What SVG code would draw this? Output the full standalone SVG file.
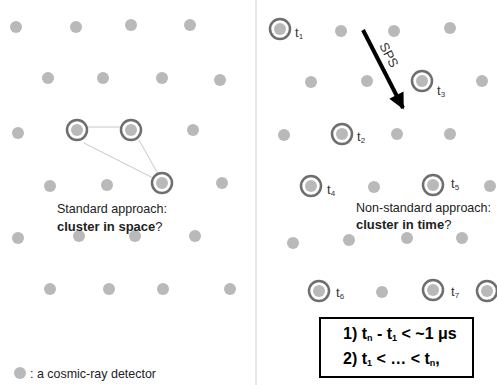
<svg xmlns="http://www.w3.org/2000/svg" width="497" height="385" viewBox="0 0 497 385">
<style>
.d{fill:#b9b9b9}
.r{fill:none;stroke:#6e6e6e;stroke-width:2.5}
.t{font-family:"Liberation Sans",Arial,sans-serif;font-size:13px;fill:#222}
.lbl{font-family:"Liberation Sans",Arial,sans-serif;font-size:13px;fill:#333}
.sub{font-size:8px}
.b{font-weight:bold}
.big{font-family:"Liberation Sans",Arial,sans-serif;font-size:16px;font-weight:bold;fill:#000}
.bsub{font-size:9px}
</style>
<defs>
<circle id="dot" r="6" class="d"/>
<g id="ring"><circle r="6" class="d"/><circle r="10" class="r"/></g>
<marker id="ah" viewBox="0 0 10 10" refX="9" refY="5" markerWidth="5.5" markerHeight="4" orient="auto" markerUnits="strokeWidth"><path d="M0,0 L10,5 L0,10 z" fill="#000"/></marker>
</defs>
<rect width="497" height="385" fill="#fff"/>
<line x1="256" y1="0" x2="256" y2="385" stroke="#d0d0d0" stroke-width="1"/>

<g id="left-panel">
<use href="#dot" x="16" y="27"/><use href="#dot" x="76" y="27"/><use href="#dot" x="131" y="25"/><use href="#dot" x="190" y="25"/>
<use href="#dot" x="48" y="78"/><use href="#dot" x="103" y="78"/><use href="#dot" x="162" y="78"/><use href="#dot" x="220" y="80"/>
<use href="#dot" x="18" y="133"/><use href="#dot" x="193" y="130"/>
<use href="#dot" x="50" y="186"/><use href="#dot" x="107" y="185"/><use href="#dot" x="222" y="183"/>
<use href="#dot" x="18" y="238"/><use href="#dot" x="79" y="236"/><use href="#dot" x="135" y="236"/><use href="#dot" x="195" y="236"/>
<use href="#dot" x="50" y="289"/><use href="#dot" x="109" y="289"/><use href="#dot" x="163" y="289"/><use href="#dot" x="230" y="289"/>
</g>

<g id="connectors">
<line x1="87" y1="127" x2="121" y2="127" stroke="#c8c8c8" stroke-width="1"/>
<line x1="84" y1="143" x2="153" y2="178" stroke="#c8c8c8" stroke-width="1"/>
<line x1="139" y1="140" x2="158" y2="174" stroke="#c8c8c8" stroke-width="1"/>
<line x1="363" y1="30" x2="403" y2="108" stroke="#000" stroke-width="4" marker-end="url(#ah)"/>
</g>

<g id="cluster-space">
<use href="#ring" x="77" y="130"/>
<use href="#ring" x="131" y="130"/>
<use href="#ring" x="162" y="183"/>
</g>

<g id="standard-text">
<text class="t" x="57" y="213" textLength="110" lengthAdjust="spacingAndGlyphs">Standard approach:</text>
<text class="t" x="57" y="231"><tspan class="b">cluster in space</tspan>?</text>
</g>

<g id="legend">
<use href="#dot" x="20" y="373"/>
<text class="t" x="30" y="378" textLength="126" lengthAdjust="spacingAndGlyphs">: a cosmic-ray detector</text>
</g>

<g id="right-panel">
<use href="#dot" x="341" y="31"/><use href="#dot" x="394" y="31"/><use href="#dot" x="450" y="28"/>
<use href="#dot" x="311" y="82"/><use href="#dot" x="367" y="81"/><use href="#dot" x="482" y="81"/>
<use href="#dot" x="284" y="135"/><use href="#dot" x="397" y="134"/><use href="#dot" x="450" y="134"/>
<use href="#dot" x="374" y="187"/><use href="#dot" x="490" y="186"/>
<use href="#dot" x="293" y="243"/><use href="#dot" x="349" y="240"/><use href="#dot" x="407" y="238"/><use href="#dot" x="462" y="238"/>
<use href="#dot" x="382" y="292"/>
</g>

<g id="t1"><use href="#ring" x="280" y="29"/><text class="lbl" x="295" y="37">t<tspan class="sub" dy="2">1</tspan></text></g>
<g id="t2"><use href="#ring" x="342" y="134"/><text class="lbl" x="357" y="141">t<tspan class="sub" dy="2">2</tspan></text></g>
<g id="t3"><use href="#ring" x="422" y="81"/><text class="lbl" x="437" y="95">t<tspan class="sub" dy="2">3</tspan></text></g>
<g id="t4"><use href="#ring" x="311" y="186"/><text class="lbl" x="327" y="194">t<tspan class="sub" dy="2">4</tspan></text></g>
<g id="t5"><use href="#ring" x="433" y="185"/><text class="lbl" x="451" y="188">t<tspan class="sub" dy="2">5</tspan></text></g>
<g id="t6"><use href="#ring" x="319" y="291"/><text class="lbl" x="336" y="297">t<tspan class="sub" dy="2">6</tspan></text></g>
<g id="t7"><use href="#ring" x="433" y="290"/><text class="lbl" x="451" y="296">t<tspan class="sub" dy="2">7</tspan></text></g>
<g id="t8"><use href="#ring" x="487" y="291"/></g>

<g id="sps-label">
<text class="lbl" x="0" y="0" transform="translate(385,57) rotate(62.5)" text-anchor="middle" fill="#111">SPS</text>
</g>

<g id="nonstandard-text">
<text class="t" x="356" y="212" textLength="135" lengthAdjust="spacingAndGlyphs">Non-standard approach:</text>
<text class="t" x="356" y="229"><tspan class="b">cluster in time</tspan>?</text>
</g>

<g id="conditions">
<rect x="320" y="318" width="153" height="59" fill="#fff" stroke="#000" stroke-width="2"/>
<text class="big" x="343" y="339">1) t<tspan class="bsub" dy="2">n</tspan><tspan dy="-2"> - t</tspan><tspan class="bsub" dy="2">1</tspan><tspan dy="-2"> &lt; ~1 μs</tspan></text>
<text class="big" x="343" y="364">2) t<tspan class="bsub" dy="2">1</tspan><tspan dy="-2"> &lt; … &lt; t</tspan><tspan class="bsub" dy="2">n</tspan><tspan dy="-2">,</tspan></text>
</g>
</svg>
